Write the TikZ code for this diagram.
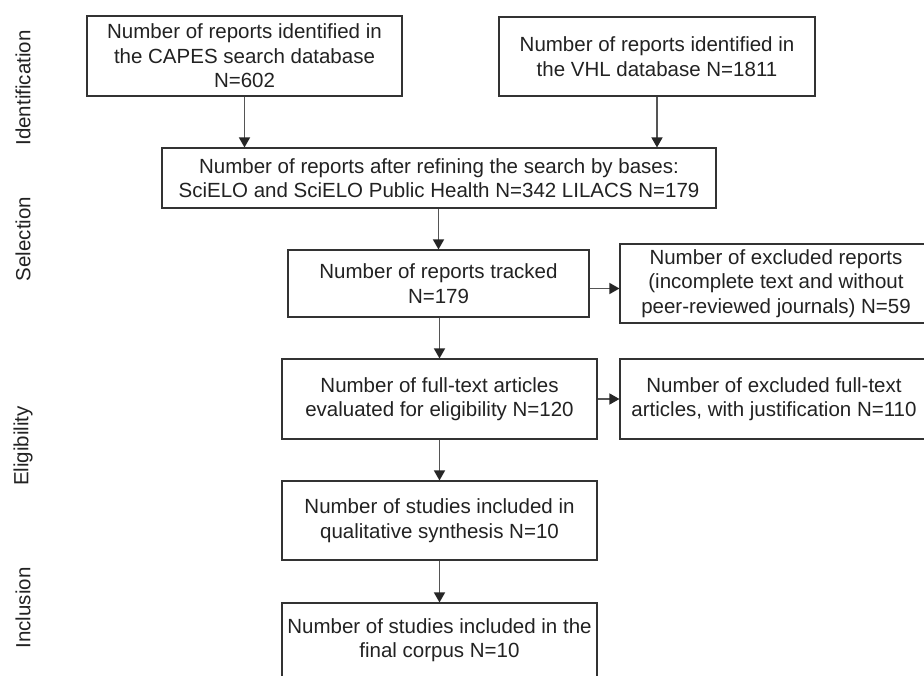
\documentclass[tikz,border=0pt]{standalone}
\usepackage{fontspec}
\setmainfont{Liberation Sans}
\usetikzlibrary{arrows.meta}
\definecolor{boxline}{HTML}{333333}
\definecolor{arrline}{HTML}{555555}
\definecolor{txt}{HTML}{222222}
\begin{document}
\begin{tikzpicture}[x=1pt,y=-1pt,
  box/.style={draw=boxline,line width=1.1pt,rectangle,inner sep=0pt,align=center,
    text=txt,font=\fontsize{20.5}{24.5}\selectfont},
  arr/.style={draw=arrline,line width=1.4pt,-{Triangle[width=11pt,length=10pt,color=black!85]}},
  phase/.style={rotate=90,text=txt,font=\fontsize{20.5}{24.5}\selectfont,inner sep=0pt}]
\useasboundingbox (0,0) rectangle (924,675);
\fill[white] (0,0) rectangle (924,675);

\node[box,minimum width=315pt,minimum height=80pt] (b1) at (244.5,56)
  {Number of reports identified in\\the CAPES search database\\N=602};
\node[box,minimum width=316pt,minimum height=79pt] (b2) at (657,56.5)
  {Number of reports identified in\\the VHL database N=1811};
\node[box,minimum width=554pt,minimum height=60pt] (b3) at (439,178)
  {Number of reports after refining the search by bases:\\SciELO and SciELO Public Health N=342 LILACS N=179};
\node[box,minimum width=301pt,minimum height=67pt] (b4) at (438.5,283.5)
  {Number of reports tracked\\N=179};
\node[box,minimum width=312pt,minimum height=79pt] (b5) at (776,283.5)
  {Number of excluded reports\\(incomplete text and without\\peer-reviewed journals) N=59};
\node[box,minimum width=315pt,minimum height=80pt] (b6) at (439.5,399)
  {Number of full-text articles\\evaluated for eligibility N=120};
\node[box,minimum width=308pt,minimum height=80pt] (b7) at (774,399)
  {Number of excluded full-text\\articles, with justification N=110};
\node[box,minimum width=315pt,minimum height=79pt] (b8) at (439.5,520.5)
  {Number of studies included in\\qualitative synthesis N=10};
\node[box,minimum width=315pt,minimum height=74pt] (b9) at (439.5,640)
  {Number of studies included in the\\final corpus N=10};

\node[phase] (l1) at (23,88) {Identification};
\node[phase] (l2) at (23,239) {Selection};
\node[phase] (l3) at (23,446) {Eligibility};
\node[phase] (l4) at (23,608) {Inclusion};

\draw[arr] (b1.south) -- (b1.south |- b3.north);
\draw[arr] (b2.south) -- (b2.south |- b3.north);
\draw[arr] (b3.south -| b4.north) -- (b4.north);
\draw[arr] ([yshift=-5pt]b4.east) -- ([yshift=-5pt]b4.east -| b5.west);
\draw[arr] (b4.south -| b6.north) -- (b6.north);
\draw[arr] (b6.east) -- (b6.east -| b7.west);
\draw[arr] (b6.south) -- (b8.north);
\draw[arr] (b8.south) -- (b9.north);
\end{tikzpicture}
\end{document}
